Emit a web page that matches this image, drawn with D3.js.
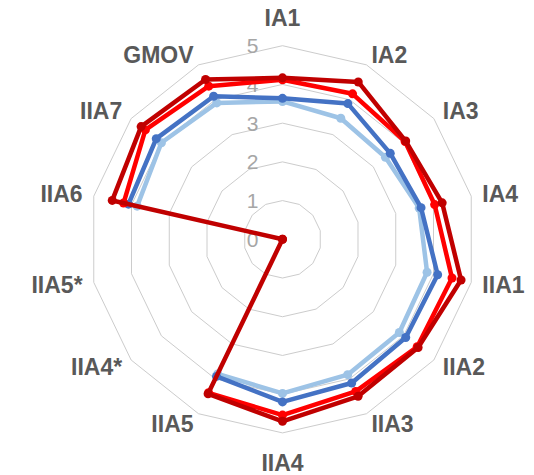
<!DOCTYPE html>
<html>
<head>
<meta charset="utf-8">
<script src="https://cdn.jsdelivr.net/npm/d3@7"></script>
<style>
  html, body { margin: 0; padding: 0; background: #fff; }
  svg { display: block; }
</style>
</head>
<body>
<svg id="chart" width="534" height="475"></svg>
<script>
const categories = ["IA1","IA2","IA3","IA4","IIA1","IIA2","IIA3","IIA4","IIA5","IIA4*","IIA5*","IIA6","IIA7","GMOV"];
const ringTicks = [0,1,2,3,4,5];
const seriesLightBlue = [3.56, 3.47, 3.40, 3.62, 3.83, 3.86, 3.88, 3.98, 3.86, null, null, 3.85, 4.00, 3.91];
const seriesBlue      = [3.64, 3.89, 3.56, 3.67, 4.11, 4.07, 4.12, 4.20, 3.93, null, null, 4.08, 4.17, 4.10];
const seriesRed       = [4.12, 4.17, 4.05, 4.03, 4.49, 4.45, 4.36, 4.54, 4.40, null, null, 4.21, 4.53, 4.39];
const seriesDarkRed   = [4.17, 4.51, 4.07, 4.23, 4.73, 4.48, 4.50, 4.70, 4.43, 0, 0, 4.51, 4.67, 4.58];
const seriesColors = ["#9dc3e6", "#4472c4", "#ff0000", "#c00000"];

const svg = d3.select("#chart");
const cx = 282.5, cy = 239.3, R = 193.6;
const n = categories.length;
const r = d3.scaleLinear().domain([0, 5]).range([0, R]);
const ang = d3.scalePoint().domain(d3.range(n + 1)).range([0, 2 * Math.PI]);
const a = i => ang(i);
const px = (i, v) => cx + r(v) * Math.sin(a(i));
const py = (i, v) => cy - r(v) * Math.cos(a(i));

const g = svg.append("g");

// grid rings
ringTicks.filter(t => t > 0).forEach(t => {
  const pts = d3.range(n).map(i => [px(i, t), py(i, t)]);
  g.append("polygon")
    .attr("points", pts.map(p => p.join(",")).join(" "))
    .attr("fill", "none")
    .attr("stroke", "#cccccc")
    .attr("stroke-width", 1);
});

// ring labels
g.selectAll("text.tick").data(ringTicks).enter().append("text")
  .attr("class", "tick")
  .attr("x", cx - 30)
  .attr("y", d => cy - r(d) + 7.5)
  .attr("text-anchor", "middle")
  .attr("font-family", "Liberation Sans, Arial, sans-serif")
  .attr("font-size", 21)
  .attr("fill", "#a6a6a6")
  .text(d => d);

// category labels
const LR = 205;
categories.forEach((c, i) => {
  const s = Math.sin(a(i)), co = Math.cos(a(i));
  const x = cx + LR * s, y = cy - LR * co;
  let anchor = "middle", ty = y + 8;
  if (Math.abs(s) < 0.1) {
    ty = co > 0 ? y - 8 : y + 27;
  } else {
    anchor = s > 0 ? "start" : "end";
  }
  g.append("text")
    .attr("x", x).attr("y", ty)
    .attr("text-anchor", anchor)
    .attr("font-family", "Liberation Sans, Arial, sans-serif")
    .attr("font-weight", "bold")
    .attr("font-size", 23)
    .attr("fill", "#595959")
    .text(c);
});

// series
const allSeries = [seriesLightBlue, seriesBlue, seriesRed, seriesDarkRed];
const line = d3.line()
  .defined(d => d.v !== null)
  .x(d => px(d.i, d.v))
  .y(d => py(d.i, d.v));

allSeries.forEach((vals, k) => {
  const pts = vals.map((v, i) => ({ i, v }));
  pts.push({ i: 0, v: vals[0] });
  g.append("path")
    .attr("d", line(pts))
    .attr("fill", "none")
    .attr("stroke", seriesColors[k])
    .attr("stroke-width", 4.5)
    .attr("stroke-linejoin", "round");
  g.selectAll(null).data(pts.slice(0, n).filter(d => d.v !== null)).enter().append("circle")
    .attr("cx", d => px(d.i, d.v))
    .attr("cy", d => py(d.i, d.v))
    .attr("r", 4.5)
    .attr("fill", seriesColors[k]);
});
</script>
</body>
</html>
